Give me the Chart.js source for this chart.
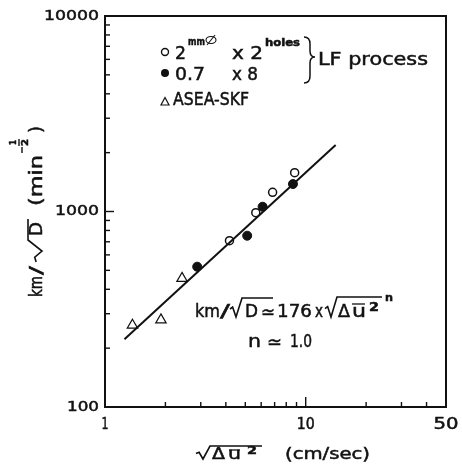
<!DOCTYPE html>
<html>
<head>
<meta charset="utf-8">
<script src="https://cdn.jsdelivr.net/npm/chart.js@4/dist/chart.umd.min.js"></script>
<style>
  html, body { margin: 0; padding: 0; background: #fff; }
  #c { display: block; }
</style>
</head>
<body>
<canvas id="c" width="462" height="473"></canvas>
<script>
// LF process, 2mm x 2 holes (open circles)
const openX = [4.17, 5.64, 6.84, 8.81];
const openY = [709, 986, 1254, 1579];
// LF process, 0.7mm x 8 holes (filled circles)
const filledX = [2.88, 5.11, 6.10, 8.64];
const filledY = [522, 752, 1058, 1382];
// ASEA-SKF (triangles)
const triX = [1.37, 1.90, 2.42];
const triY = [262, 279, 455];
// regression line km/sqrt(D) ~ 176 x sqrt(du^2)^n
const fitX = [1.25, 14.1];
const fitY = [222, 2190];

// axis ticks
const xMajor = [1, 10, 50];
const xMinor = [2, 3, 4, 5, 6, 7, 8, 9, 20, 30, 40];
const yMajor = [100, 1000, 10000];
const yMinor = [200, 300, 400, 500, 600, 700, 800, 900, 2000, 3000, 4000, 5000, 6000, 7000, 8000, 9000];

const FONT = '"DejaVu Sans", sans-serif';
const INK = '#111';

function pts(xs, ys) {
  return xs.map((x, i) => ({ x: x, y: ys[i] }));
}

// draw a string stretched to width w, starting at x
function fitText(ctx, str, x, y, w) {
  const m = ctx.measureText(str).width;
  ctx.save();
  ctx.translate(x, y);
  ctx.scale(w / m, 1);
  ctx.lineWidth = 0.5;
  ctx.strokeText(str, 0, 0);
  ctx.fillText(str, 0, 0);
  ctx.restore();
}

// square-root sign from x0 to x1, overline running on to xEnd
function radical(ctx, x0, x1, top, base, xEnd) {
  const h = base - top, w = x1 - x0;
  ctx.beginPath();
  ctx.moveTo(x0, base - h * 0.42);
  ctx.lineTo(x0 + w * 0.22, base - h * 0.52);
  ctx.lineTo(x0 + w * 0.5, base);
  ctx.lineTo(x1, top);
  ctx.lineTo(xEnd, top);
  ctx.stroke();
}

function line(ctx, x0, y0, x1, y1) {
  ctx.beginPath();
  ctx.moveTo(x0, y0);
  ctx.lineTo(x1, y1);
  ctx.stroke();
}

const decorations = {
  id: 'decorations',
  afterDraw(chart) {
    const ctx = chart.ctx;
    const a = chart.chartArea;
    const xs = chart.scales.x, ys = chart.scales.y;
    ctx.save();
    ctx.strokeStyle = INK;
    ctx.fillStyle = INK;
    ctx.lineCap = 'butt';

    // frame
    ctx.lineWidth = 2;
    ctx.strokeRect(a.left, a.top, a.right - a.left, a.bottom - a.top);

    // inward tick marks
    ctx.lineWidth = 1.4;
    xMinor.forEach(v => { const p = xs.getPixelForValue(v); line(ctx, p, a.bottom, p, a.bottom - 5); });
    { const p = xs.getPixelForValue(10); line(ctx, p, a.bottom, p, a.bottom - 10); }
    yMinor.forEach(v => { const p = ys.getPixelForValue(v); line(ctx, a.left, p, a.left + 5, p); });
    { const p = ys.getPixelForValue(1000); line(ctx, a.left, p, a.left + 9, p); }

    // tick labels
    ctx.font = '14px ' + FONT;
    ctx.textBaseline = 'middle';
    const yLabW = { 100: 32, 1000: 44, 10000: 55 };
    yMajor.forEach(v => {
      const p = ys.getPixelForValue(v);
      fitText(ctx, String(v), a.left - 6 - yLabW[v], p, yLabW[v]);
    });
    ctx.font = '15px ' + FONT;
    const xLabW = { 1: 7, 10: 18, 50: 25 };
    xMajor.forEach(v => {
      const p = xs.getPixelForValue(v);
      fitText(ctx, String(v), p - xLabW[v] / 2, 425, xLabW[v]);
    });

    ctx.textBaseline = 'alphabetic';

    // x axis title
    ctx.lineWidth = 1.6;
    radical(ctx, 196, 210, 446, 459, 262);
    ctx.font = '16px ' + FONT;
    fitText(ctx, 'Δ', 212, 459, 13);
    fitText(ctx, 'u', 228, 459, 13);
    ctx.lineWidth = 1.3;
    line(ctx, 229, 450, 240, 450);
    ctx.font = 'bold 11px ' + FONT;
    fitText(ctx, '2', 247, 454, 10);
    ctx.font = '16px ' + FONT;
    fitText(ctx, '(cm/sec)', 285, 459, 85);

    // y axis title, rotated
    ctx.save();
    ctx.translate(42, 297);
    ctx.rotate(-Math.PI / 2);
    ctx.font = '17px ' + FONT;
    fitText(ctx, 'km', 0, 0, 21);
    fitText(ctx, '/', 22, 0, 9);
    ctx.lineWidth = 1.6;
    radical(ctx, 35, 57, -14, 0, 78);
    fitText(ctx, 'D', 61, 0, 14);
    fitText(ctx, '(min', 91, 0, 51);
    ctx.lineWidth = 1.4;
    line(ctx, 144, -20, 150, -20);
    ctx.font = 'bold 9px ' + FONT;
    fitText(ctx, '1', 152, -26, 5);
    line(ctx, 151, -23, 158, -23);
    fitText(ctx, '2', 151, -14, 7);
    ctx.font = '17px ' + FONT;
    fitText(ctx, ')', 164, 0, 7);
    ctx.restore();

    // legend
    ctx.lineWidth = 1.4;
    ctx.beginPath(); ctx.arc(165, 52, 3.5, 0, Math.PI * 2); ctx.stroke();
    ctx.beginPath(); ctx.arc(165, 73, 4, 0, Math.PI * 2); ctx.fill();
    ctx.lineWidth = 1.2;
    ctx.beginPath();
    ctx.moveTo(165, 97.5); ctx.lineTo(169, 105); ctx.lineTo(161, 105); ctx.closePath();
    ctx.stroke();

    ctx.font = '18px ' + FONT;
    fitText(ctx, '2', 175, 59, 11);
    fitText(ctx, 'x 2', 232, 59, 31);
    fitText(ctx, '0.7', 175, 80, 30);
    fitText(ctx, 'x 8', 232, 80, 26);
    ctx.font = '18px ' + FONT;
    fitText(ctx, 'ASEA-SKF', 173, 105, 76);
    fitText(ctx, 'LF process', 318, 65, 110);
    ctx.font = 'bold 10px ' + FONT;
    fitText(ctx, 'mm', 188, 45, 17);
    fitText(ctx, 'holes', 265, 46, 35);
    // diameter mark
    ctx.lineWidth = 1.1;
    ctx.beginPath(); ctx.ellipse(211, 40, 5, 3.5, 0, 0, Math.PI * 2); ctx.stroke();
    line(ctx, 207, 45, 215, 35);

    // brace
    ctx.lineWidth = 1.5;
    ctx.beginPath();
    ctx.moveTo(304, 37);
    ctx.quadraticCurveTo(310, 37, 310, 44);
    ctx.lineTo(310, 51);
    ctx.quadraticCurveTo(310, 57, 315, 57);
    ctx.quadraticCurveTo(310, 57, 310, 63);
    ctx.lineTo(310, 76);
    ctx.quadraticCurveTo(310, 83, 304, 83);
    ctx.stroke();

    // fitted relation
    ctx.font = '18px ' + FONT;
    fitText(ctx, 'km', 195, 317, 25);
    fitText(ctx, '/', 220, 317, 10);
    ctx.lineWidth = 1.6;
    radical(ctx, 230, 242, 298, 317, 273);
    fitText(ctx, 'D', 245, 317, 13);
    fitText(ctx, '≃', 261, 318, 14);
    fitText(ctx, '176', 277, 317, 35);
    fitText(ctx, 'x', 315, 317, 8);
    radical(ctx, 325, 337, 297, 317, 382);
    fitText(ctx, 'Δ', 338, 317, 12);
    fitText(ctx, 'u', 352, 317, 14);
    ctx.lineWidth = 1.3;
    line(ctx, 352, 304, 365, 304);
    ctx.font = 'bold 12px ' + FONT;
    fitText(ctx, '2', 369, 311, 10);
    ctx.font = 'bold 11px ' + FONT;
    fitText(ctx, 'n', 385, 301, 8);
    ctx.font = '18px ' + FONT;
    fitText(ctx, 'n', 248, 347, 13);
    fitText(ctx, '≃', 267, 348, 15);
    fitText(ctx, '1.0', 290, 347, 22);

    ctx.restore();
  }
};

new Chart(document.getElementById('c'), {
  type: 'scatter',
  data: {
    datasets: [
      {
        type: 'line',
        data: pts(fitX, fitY),
        borderColor: INK,
        borderWidth: 2,
        pointRadius: 0,
        fill: false
      },
      {
        data: pts(openX, openY),
        pointStyle: 'circle',
        pointRadius: 4,
        pointBorderWidth: 1.5,
        pointBorderColor: INK,
        pointBackgroundColor: '#fff'
      },
      {
        data: pts(filledX, filledY),
        pointStyle: 'circle',
        pointRadius: 4.5,
        pointBorderWidth: 1,
        pointBorderColor: INK,
        pointBackgroundColor: INK
      },
      {
        data: pts(triX, triY),
        pointStyle: 'triangle',
        pointRadius: 6,
        pointBorderWidth: 1.2,
        pointBorderColor: INK,
        pointBackgroundColor: '#fff'
      }
    ]
  },
  options: {
    responsive: false,
    animation: false,
    devicePixelRatio: 1,
    layout: { padding: { top: 16, right: 16, left: 0, bottom: 0 } },
    plugins: { legend: { display: false }, tooltip: { enabled: false } },
    scales: {
      x: {
        type: 'logarithmic',
        min: 1,
        max: 50,
        ticks: { display: false },
        grid: { display: false, drawTicks: false },
        border: { display: false },
        afterFit(s) { s.height = 66; }
      },
      y: {
        type: 'logarithmic',
        min: 100,
        max: 10000,
        ticks: { display: false },
        grid: { display: false, drawTicks: false },
        border: { display: false },
        afterFit(s) { s.width = 105; }
      }
    }
  },
  plugins: [decorations]
});
</script>
</body>
</html>
